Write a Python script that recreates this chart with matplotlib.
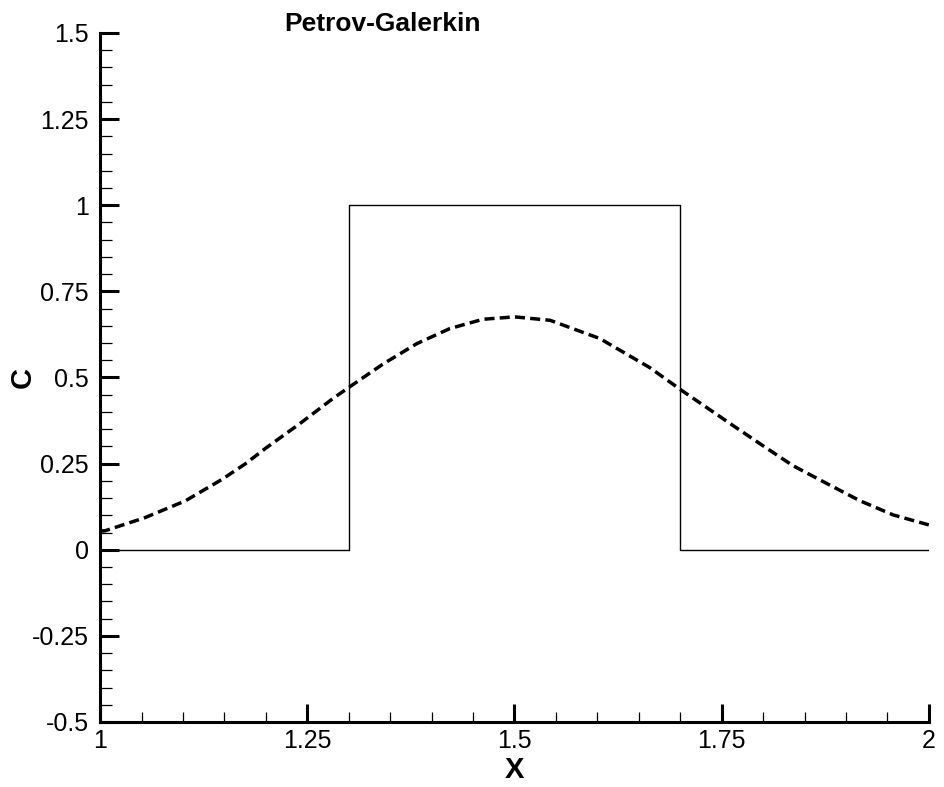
import numpy as np
import matplotlib
matplotlib.use("Agg")
import matplotlib.pyplot as plt
from matplotlib.ticker import AutoMinorLocator, FormatStrFormatter

plt.rcParams['font.family'] = ['Liberation Sans', 'DejaVu Sans']

# exact solution: square pulse
x_exact = [1.0, 1.3, 1.3, 1.7, 1.7, 2.0]
c_exact = [0.0, 0.0, 1.0, 1.0, 0.0, 0.0]

# Petrov-Galerkin solution
x_pg = [1.0, 1.006, 1.054, 1.103, 1.147, 1.175, 1.20, 1.241, 1.281, 1.30, 1.342, 1.382,
        1.422, 1.462, 1.50, 1.543, 1.603, 1.663, 1.702, 1.764, 1.796, 1.836, 1.877,
        1.917, 1.957, 2.0]
c_pg = [0.054, 0.055, 0.093, 0.142, 0.204, 0.249, 0.295, 0.366, 0.439, 0.471, 0.54, 0.598,
        0.642, 0.669, 0.676, 0.666, 0.613, 0.529, 0.462, 0.36, 0.308, 0.244, 0.192,
        0.142, 0.101, 0.072]

yticks = [-0.5, -0.25, 0, 0.25, 0.5, 0.75, 1, 1.25, 1.5]
xticks = [1, 1.25, 1.5, 1.75, 2]

fig = plt.figure(figsize=(9.44, 7.87), dpi=100)
ax = fig.add_axes([0.106, 0.0826, 0.878, 0.8755])

ax.plot(x_exact, c_exact, color='k', linewidth=1.0)
ax.plot(x_pg, c_pg, color='k', linewidth=2.5, linestyle=(0, (2.9, 1.5)))

ax.set_xlim(1, 2)
ax.set_ylim(-0.5, 1.5)
ax.set_xticks(xticks)
ax.set_yticks(yticks)
ax.xaxis.set_minor_locator(AutoMinorLocator(5))
ax.yaxis.set_minor_locator(AutoMinorLocator(5))
ax.xaxis.set_major_formatter(FormatStrFormatter('%g'))
ax.yaxis.set_major_formatter(FormatStrFormatter('%g'))

for s in ['top', 'right']:
    ax.spines[s].set_visible(False)
for s in ['left', 'bottom']:
    ax.spines[s].set_linewidth(2.2)

ax.tick_params(axis='y', which='major', direction='in', length=14, width=2.2, labelsize=18, pad=8)
ax.tick_params(axis='y', which='minor', direction='in', length=8.5, width=0.9)
ax.tick_params(axis='x', which='major', direction='in', length=13, width=2.2, labelsize=18, pad=5)
ax.tick_params(axis='x', which='minor', direction='in', length=7.5, width=0.9)

ax.set_xlabel('X', fontsize=21, fontweight='bold', va='center')
ax.xaxis.set_label_coords(0.5, -0.07)
ax.set_ylabel('C', fontsize=21, fontweight='bold', va='center')
ax.yaxis.set_label_coords(-0.093, 0.5)
fig.text(0.405, 0.969, 'Petrov-Galerkin', fontsize=19, fontweight='bold', ha='center', va='center')

fig.savefig('out.png', dpi=100)
